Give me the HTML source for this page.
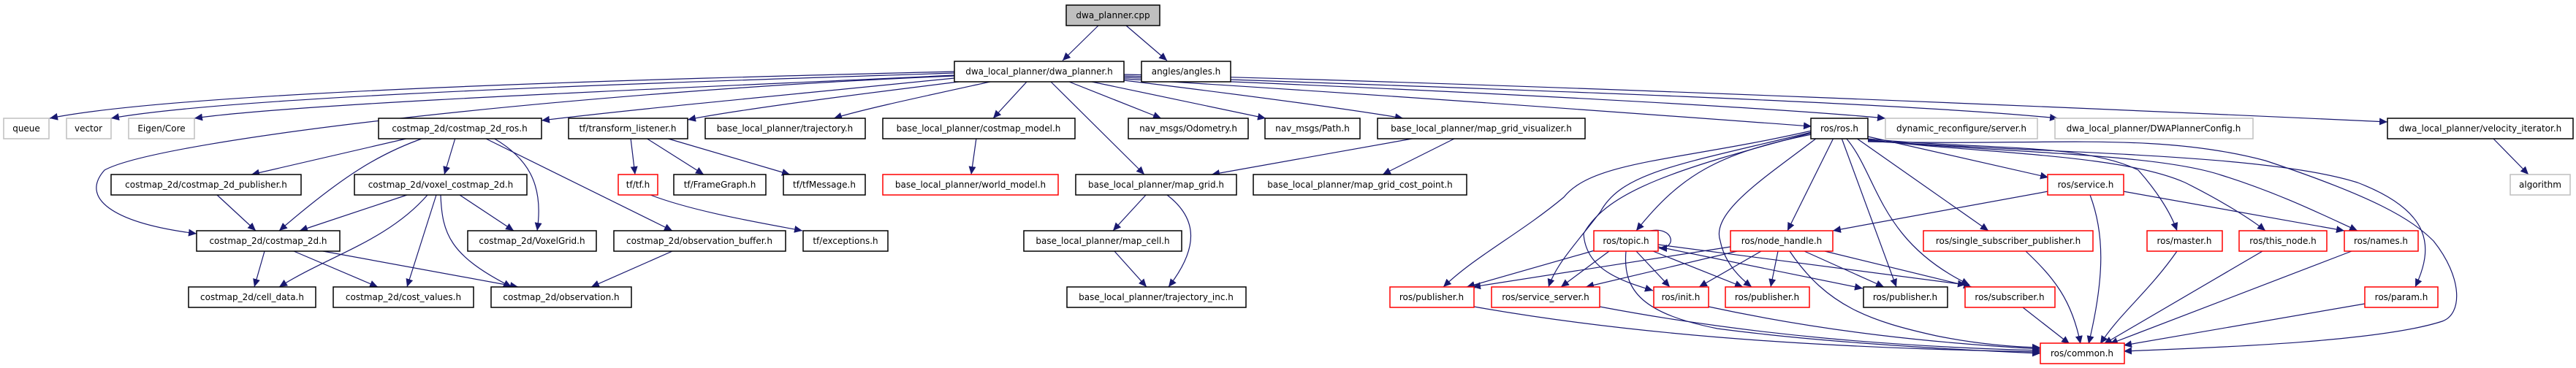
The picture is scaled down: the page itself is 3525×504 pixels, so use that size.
<!DOCTYPE html>
<html><head><meta charset="utf-8"><style>
html,body{margin:0;padding:0;background:#fff;}
svg{display:block;}
text{font-family:"DejaVu Sans","Liberation Sans",sans-serif;font-size:12px;fill:#000;}
.b{fill:#fff;stroke:#000;stroke-width:1.5;}
.g{fill:#fff;stroke:#bfbfbf;stroke-width:1.5;}
.r{fill:#fff;stroke:#ff0000;stroke-width:1.5;}
.c{fill:#bfbfbf;stroke:#000;stroke-width:1.5;}
.e{fill:none;stroke:#191970;stroke-width:1.2;marker-end:url(#a);}
</style></head><body>
<svg width="3525" height="504" viewBox="0 0 3525 504" xmlns="http://www.w3.org/2000/svg">
<defs><marker id="a" markerUnits="userSpaceOnUse" markerWidth="12" markerHeight="10" refX="11" refY="5" orient="auto"><path d="M0,0 L11,5 L0,10 z" fill="#191970"/></marker></defs>

<!-- edges -->
<g>
<path class="e" d="M1503,35 L1454,83"/>
<path class="e" d="M1541,35 L1597,83"/>
<!-- dwa_planner.h out -->
<path class="e" d="M1306,98 C900,108 250,125 68,162"/>
<path class="e" d="M1306,100 C950,112 330,130 152,162"/>
<path class="e" d="M1306,103 C1000,118 420,140 266,162"/>
<path class="e" d="M1306,104 C800,125 220,190 143,233 C110,270 150,305 269,320"/>
<path class="e" d="M1306,107 C1100,128 880,148 741,165"/>
<path class="e" d="M1312,112 C1150,132 1000,152 941,164"/>
<path class="e" d="M1355,112 C1250,135 1180,150 1141,162"/>
<path class="e" d="M1405,112 L1359,162"/>
<path class="e" d="M1438,112 L1566,239"/>
<path class="e" d="M1463,112 L1589,162"/>
<path class="e" d="M1494,112 L1732,162"/>
<path class="e" d="M1538,110 C1700,130 1850,150 1920,162"/>
<path class="e" d="M1538,108 C1900,130 2300,160 2479,173"/>
<path class="e" d="M1538,106 C1900,120 2400,145 2580,162"/>
<path class="e" d="M1538,104 C2000,120 2600,140 2816,162"/>
<path class="e" d="M1538,102 C2100,115 2900,150 3267,167"/>
<!-- costmap_2d_ros -->
<path class="e" d="M560,189 L344,239"/>
<path class="e" d="M580,189 C520,210 470,240 382,316"/>
<path class="e" d="M623,189 L608,239"/>
<path class="e" d="M675,189 C720,215 745,250 735,316"/>
<path class="e" d="M663,189 L920,316"/>
<path class="e" d="M297,267 L350,316"/>
<path class="e" d="M557,267 L410,316"/>
<path class="e" d="M585,267 C530,330 450,350 382,393"/>
<path class="e" d="M597,267 L557,393"/>
<path class="e" d="M603,267 C605,320 615,350 700,393"/>
<path class="e" d="M629,267 L703,316"/>
<path class="e" d="M362,344 L348,393"/>
<path class="e" d="M402,344 L517,393"/>
<path class="e" d="M442,344 L709,393"/>
<path class="e" d="M920,344 L809,393"/>
<!-- tf -->
<path class="e" d="M863,189 L869,239"/>
<path class="e" d="M884,189 L963,239"/>
<path class="e" d="M911,189 L1081,239"/>
<path class="e" d="M890,267 C950,290 1040,305 1098,316"/>
<path class="e" d="M1336,189 L1329,239"/>
<path class="e" d="M1938,189 L1658,239"/>
<path class="e" d="M1992,189 L1892,239"/>
<path class="e" d="M1568,267 L1523,316"/>
<path class="e" d="M1597,267 C1640,300 1640,340 1599,393"/>
<path class="e" d="M1525,344 L1569,393"/>
<path class="e" d="M3411,189 L3460,239"/>
<!-- ros.h -->
<path class="e" d="M2479,179 C2300,220 2180,220 2140,270 C2080,320 2020,350 1975,393"/>
<path class="e" d="M2479,181 C2300,225 2220,235 2190,290 C2160,330 2130,360 2119,393"/>
<path class="e" d="M2479,182 C2300,230 2200,260 2167,320 C2170,370 2220,385 2262,398"/>
<path class="e" d="M2479,184 C2350,210 2300,240 2239,316"/>
<path class="e" d="M2486,189 C2420,240 2340,290 2354,330 C2360,360 2380,380 2397,393"/>
<path class="e" d="M2509,189 L2446,316"/>
<path class="e" d="M2520,189 L2595,393"/>
<path class="e" d="M2526,189 C2570,240 2570,330 2695,390"/>
<path class="e" d="M2540,189 L2721,316"/>
<path class="e" d="M2556,187 L2803,243"/>
<path class="e" d="M2556,190 C2700,205 2850,195 2926,233 C2950,260 2970,290 2979,316"/>
<path class="e" d="M2556,191 C2700,210 2900,210 2990,250 C3040,275 3080,300 3100,316"/>
<path class="e" d="M2556,192 C2750,210 2950,210 3040,240 C3120,265 3180,295 3226,316"/>
<path class="e" d="M2556,193 C2800,210 3100,210 3226,250 C3330,290 3330,340 3305,393"/>
<path class="e" d="M2556,194 C2800,200 2950,180 3100,220 C3250,270 3300,300 3330,330 C3370,380 3370,430 3342,440 C3250,470 3000,477 2906,481"/>
<!-- service.h -->
<path class="e" d="M2803,262 L2508,316"/>
<path class="e" d="M2905,262 L3208,316"/>
<path class="e" d="M2860,267 C2880,320 2880,380 2858,471"/>
<!-- row4 to common -->
<path class="e" d="M2772,344 C2810,380 2835,410 2847,471"/>
<path class="e" d="M2979,344 C2940,400 2900,430 2874,471"/>
<path class="e" d="M3096,344 L2879,471"/>
<path class="e" d="M3218,344 L2887,471"/>
<path class="e" d="M3236,416 L2906,473"/>
<path class="e" d="M2768,421 L2832,471"/>
<!-- row5 to common -->
<path class="e" d="M2017,420 C2300,470 2600,478 2792,482"/>
<path class="e" d="M2189,420 C2400,460 2600,475 2792,480"/>
<path class="e" d="M2338,420 C2500,455 2650,470 2792,478"/>
<path class="e" d="M2449,344 C2500,420 2560,440 2650,460 C2700,470 2750,475 2792,476"/>
<path class="e" d="M2225,344 C2220,400 2250,430 2350,450 C2500,470 2700,480 2792,484"/>
<!-- topic -->
<path class="e" d="M2258,316 C2290,310 2296,340 2270,340"/>
<path class="e" d="M2182,343 L2007,393"/>
<path class="e" d="M2202,344 L2136,393"/>
<path class="e" d="M2239,344 L2285,393"/>
<path class="e" d="M2262,344 L2385,393"/>
<path class="e" d="M2269,338 L2549,395"/>
<path class="e" d="M2269,335 L2690,390"/>
<!-- node_handle -->
<path class="e" d="M2368,338 L2015,393"/>
<path class="e" d="M2377,344 L2170,393"/>
<path class="e" d="M2410,344 L2325,393"/>
<path class="e" d="M2433,344 L2423,393"/>
<path class="e" d="M2469,344 L2578,393"/>
<path class="e" d="M2497,344 L2698,393"/>
</g>

<!-- nodes -->
<g>
<rect class="c" x="1459" y="7" width="128" height="28"/><text x="1523" y="25" text-anchor="middle">dwa_planner.cpp</text>
<rect class="b" x="1306" y="84" width="232" height="28"/><text x="1422" y="102" text-anchor="middle">dwa_local_planner/dwa_planner.h</text>
<rect class="b" x="1562" y="84" width="122" height="28"/><text x="1623" y="102" text-anchor="middle">angles/angles.h</text>

<rect class="g" x="5" y="162" width="62" height="28"/><text x="36" y="180" text-anchor="middle">queue</text>
<rect class="g" x="91" y="162" width="61" height="28"/><text x="121" y="180" text-anchor="middle">vector</text>
<rect class="g" x="176" y="162" width="90" height="28"/><text x="221" y="180" text-anchor="middle">Eigen/Core</text>
<rect class="b" x="518" y="162" width="223" height="28"/><text x="629" y="180" text-anchor="middle">costmap_2d/costmap_2d_ros.h</text>
<rect class="b" x="778" y="162" width="163" height="28"/><text x="859" y="180" text-anchor="middle">tf/transform_listener.h</text>
<rect class="b" x="965" y="162" width="219" height="28"/><text x="1074" y="180" text-anchor="middle">base_local_planner/trajectory.h</text>
<rect class="b" x="1208" y="162" width="263" height="28"/><text x="1339" y="180" text-anchor="middle">base_local_planner/costmap_model.h</text>
<rect class="b" x="1544" y="162" width="164" height="28"/><text x="1626" y="180" text-anchor="middle">nav_msgs/Odometry.h</text>
<rect class="b" x="1731" y="162" width="130" height="28"/><text x="1796" y="180" text-anchor="middle">nav_msgs/Path.h</text>
<rect class="b" x="1885" y="162" width="284" height="28"/><text x="2027" y="180" text-anchor="middle">base_local_planner/map_grid_visualizer.h</text>
<rect class="b" x="2478" y="162" width="78" height="28"/><text x="2517" y="180" text-anchor="middle">ros/ros.h</text>
<rect class="g" x="2580" y="162" width="208" height="28"/><text x="2684" y="180" text-anchor="middle">dynamic_reconfigure/server.h</text>
<rect class="g" x="2812" y="162" width="271" height="28"/><text x="2947" y="180" text-anchor="middle">dwa_local_planner/DWAPlannerConfig.h</text>
<rect class="b" x="3267" y="162" width="254" height="28"/><text x="3394" y="180" text-anchor="middle">dwa_local_planner/velocity_iterator.h</text>

<rect class="b" x="152" y="239" width="260" height="28"/><text x="282" y="257" text-anchor="middle">costmap_2d/costmap_2d_publisher.h</text>
<rect class="b" x="485" y="239" width="236" height="28"/><text x="603" y="257" text-anchor="middle">costmap_2d/voxel_costmap_2d.h</text>
<rect class="r" x="846" y="239" width="54" height="28"/><text x="873" y="257" text-anchor="middle">tf/tf.h</text>
<rect class="b" x="922" y="239" width="126" height="28"/><text x="985" y="257" text-anchor="middle">tf/FrameGraph.h</text>
<rect class="b" x="1072" y="239" width="112" height="28"/><text x="1128" y="257" text-anchor="middle">tf/tfMessage.h</text>
<rect class="r" x="1208" y="239" width="240" height="28"/><text x="1328" y="257" text-anchor="middle">base_local_planner/world_model.h</text>
<rect class="b" x="1472" y="239" width="220" height="28"/><text x="1582" y="257" text-anchor="middle">base_local_planner/map_grid.h</text>
<rect class="b" x="1715" y="239" width="292" height="28"/><text x="1861" y="257" text-anchor="middle">base_local_planner/map_grid_cost_point.h</text>
<rect class="r" x="2802" y="239" width="104" height="28"/><text x="2854" y="257" text-anchor="middle">ros/service.h</text>
<rect class="g" x="3435" y="239" width="82" height="28"/><text x="3476" y="257" text-anchor="middle">algorithm</text>

<rect class="b" x="269" y="316" width="196" height="28"/><text x="367" y="334" text-anchor="middle">costmap_2d/costmap_2d.h</text>
<rect class="b" x="640" y="316" width="176" height="28"/><text x="728" y="334" text-anchor="middle">costmap_2d/VoxelGrid.h</text>
<rect class="b" x="840" y="316" width="235" height="28"/><text x="957" y="334" text-anchor="middle">costmap_2d/observation_buffer.h</text>
<rect class="b" x="1099" y="316" width="116" height="28"/><text x="1157" y="334" text-anchor="middle">tf/exceptions.h</text>
<rect class="b" x="1401" y="316" width="216" height="28"/><text x="1509" y="334" text-anchor="middle">base_local_planner/map_cell.h</text>
<rect class="r" x="2181" y="316" width="88" height="28"/><text x="2225" y="334" text-anchor="middle">ros/topic.h</text>
<rect class="r" x="2368" y="316" width="140" height="28"/><text x="2438" y="334" text-anchor="middle">ros/node_handle.h</text>
<rect class="r" x="2632" y="316" width="232" height="28"/><text x="2748" y="334" text-anchor="middle">ros/single_subscriber_publisher.h</text>
<rect class="r" x="2938" y="316" width="103" height="28"/><text x="2989" y="334" text-anchor="middle">ros/master.h</text>
<rect class="r" x="3064" y="316" width="120" height="28"/><text x="3124" y="334" text-anchor="middle">ros/this_node.h</text>
<rect class="r" x="3208" y="316" width="101" height="28"/><text x="3258" y="334" text-anchor="middle">ros/names.h</text>

<rect class="b" x="258" y="393" width="174" height="28"/><text x="345" y="411" text-anchor="middle">costmap_2d/cell_data.h</text>
<rect class="b" x="456" y="393" width="192" height="28"/><text x="552" y="411" text-anchor="middle">costmap_2d/cost_values.h</text>
<rect class="b" x="672" y="393" width="192" height="28"/><text x="768" y="411" text-anchor="middle">costmap_2d/observation.h</text>
<rect class="b" x="1460" y="393" width="245" height="28"/><text x="1582" y="411" text-anchor="middle">base_local_planner/trajectory_inc.h</text>
<rect class="r" x="1902" y="393" width="115" height="28"/><text x="1959" y="411" text-anchor="middle">ros/publisher.h</text>
<rect class="r" x="2041" y="393" width="148" height="28"/><text x="2115" y="411" text-anchor="middle">ros/service_server.h</text>
<rect class="r" x="2263" y="393" width="75" height="28"/><text x="2300" y="411" text-anchor="middle">ros/init.h</text>
<rect class="r" x="2361" y="393" width="115" height="28"/><text x="2418" y="411" text-anchor="middle">ros/publisher.h</text>
<rect class="b" x="2550" y="393" width="115" height="28"/><text x="2607" y="411" text-anchor="middle">ros/publisher.h</text>
<rect class="r" x="2689" y="393" width="123" height="28"/><text x="2750" y="411" text-anchor="middle">ros/subscriber.h</text>
<rect class="r" x="3236" y="393" width="100" height="28"/><text x="3286" y="411" text-anchor="middle">ros/param.h</text>

<rect class="r" x="2792" y="470" width="115" height="28"/><text x="2849" y="488" text-anchor="middle">ros/common.h</text>
</g>
</svg>
</body></html>
